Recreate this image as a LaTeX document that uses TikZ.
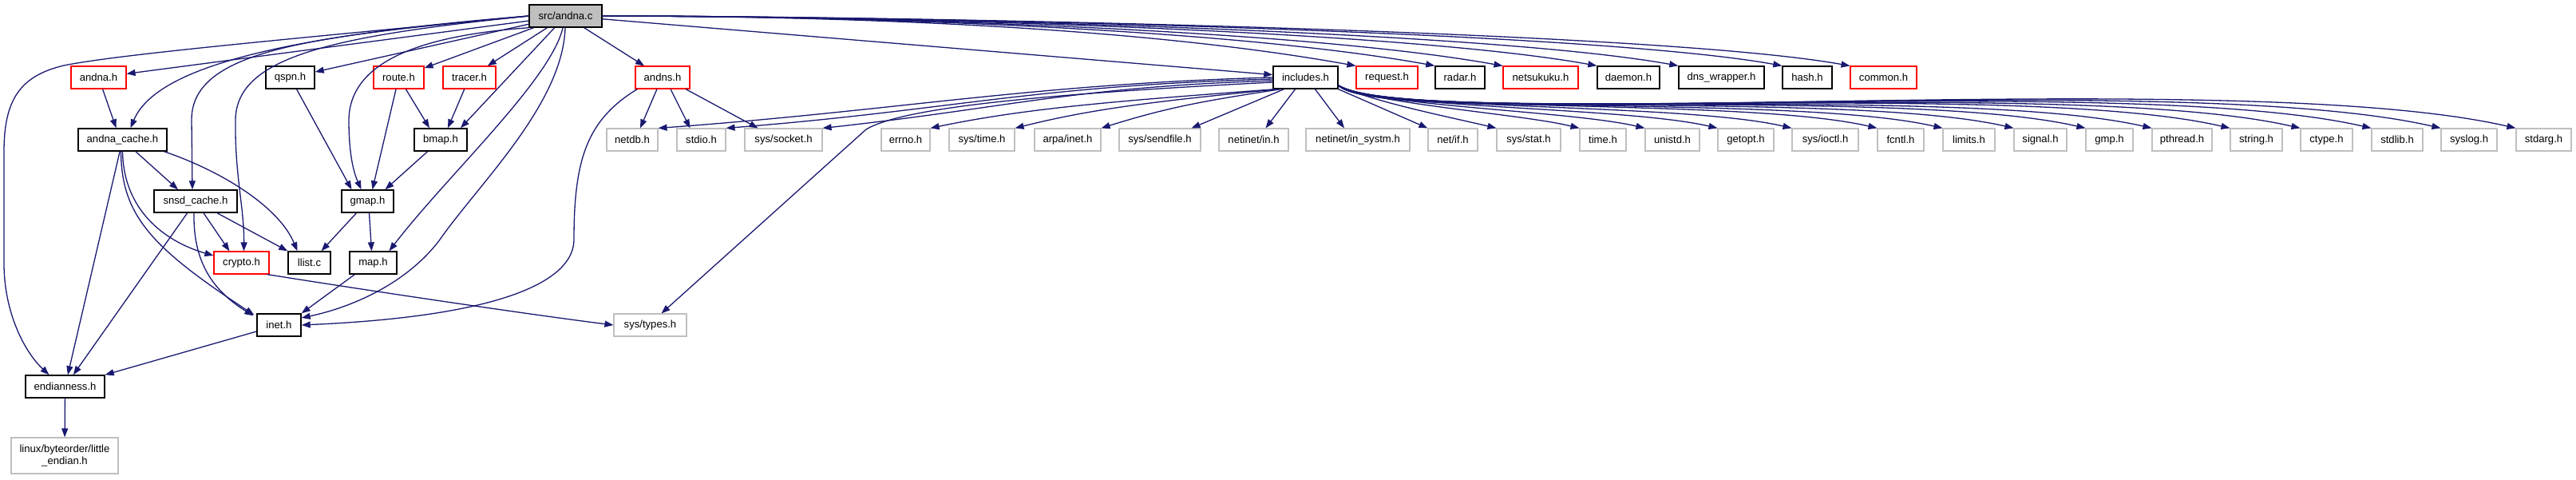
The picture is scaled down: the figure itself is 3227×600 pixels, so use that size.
\documentclass[tikz,border=0pt]{standalone}
\usepackage{fontspec}
\setmainfont{Liberation Sans}
\usetikzlibrary{arrows.meta,calc}
\definecolor{edgec}{HTML}{191970}
\definecolor{grayb}{HTML}{BFBFBF}
\begin{document}
\begin{tikzpicture}[x=1pt,y=-1pt,
  every node/.style={font=\fontsize{13.1pt}{15pt}\selectfont, inner xsep=3pt, inner ysep=0pt, minimum height=28pt, rectangle, anchor=center},
  blk/.style={draw=black, line width=1.4pt, minimum width=#1pt},
  rdb/.style={draw=red, line width=1.1pt, minimum width=#1pt},
  gry/.style={draw=grayb, line width=1.1pt, minimum width=#1pt},
  srcbox/.style={draw=black, fill=grayb, line width=1.4pt, minimum width=#1pt},
  conn/.style={draw=edgec, line width=1.3pt, -{Triangle[length=11pt,width=8pt]}},
]
\useasboundingbox (0,0) rectangle (3227,600);
% row 0
\node[srcbox=91] (srca) at (708.5,20) {src/andna.c};
% row 1
\node[rdb=69] (andnah) at (123.5,97) {andna.h};
\node[blk=61] (qspn) at (363.5,97) {qspn.h};
\node[rdb=63] (route) at (499.5,97) {route.h};
\node[rdb=66] (tracer) at (588,97) {tracer.h};
\node[rdb=68] (andns) at (830,97) {andns.h};
\node[blk=81] (includes) at (1635.5,97) {includes.h};
\node[rdb=77] (request) at (1737.5,97) {request.h};
\node[blk=62] (radar) at (1829,97) {radar.h};
\node[rdb=94] (netsukuku) at (1930,97) {netsukuku.h};
\node[blk=78] (daemon) at (2040,97) {daemon.h};
\node[blk=107] (dnsw) at (2156.5,97) {dns\_wrapper.h};
\node[blk=62] (hash) at (2264,97) {hash.h};
\node[rdb=83] (common) at (2359.5,97) {common.h};
% row 2
\node[blk=111] (andnacache) at (153.5,175) {andna\_cache.h};
\node[blk=66] (bmap) at (552,175) {bmap.h};
\node[gry=64] (netdb) at (792,175) {netdb.h};
\node[gry=61] (stdio) at (878.5,175) {stdio.h};
\node[gry=97] (syssocket) at (981.5,175) {sys/socket.h};
\node[gry=61] (errno) at (1134.5,175) {errno.h};
\node[gry=82] (systime) at (1230,175) {sys/time.h};
\node[gry=83] (arpainet) at (1337.5,175) {arpa/inet.h};
\node[gry=102] (sendfile) at (1453,175) {sys/sendfile.h};
\node[gry=87] (netinetin) at (1570.5,175) {netinet/in.h};
\node[gry=130] (insystm) at (1701,175) {netinet/in\_systm.h};
\node[gry=62] (netif) at (1820,175) {net/if.h};
\node[gry=80] (sysstat) at (1915,175) {sys/stat.h};
\node[gry=58] (timeh) at (2008,175) {time.h};
\node[gry=68] (unistd) at (2095,175) {unistd.h};
\node[gry=70] (getopt) at (2187,175) {getopt.h};
\node[gry=83] (ioctl) at (2286.5,175) {sys/ioctl.h};
\node[gry=58] (fcntl) at (2381,175) {fcntl.h};
\node[gry=65] (limits) at (2466.5,175) {limits.h};
\node[gry=66] (signal) at (2556,175) {signal.h};
\node[gry=59] (gmp) at (2642.5,175) {gmp.h};
\node[gry=75] (pthread) at (2733.5,175) {pthread.h};
\node[gry=65] (string) at (2826.5,175) {string.h};
\node[gry=65] (ctype) at (2914.5,175) {ctype.h};
\node[gry=64] (stdlib) at (3003,175) {stdlib.h};
\node[gry=70] (syslog) at (3093,175) {syslog.h};
\node[gry=69] (stdarg) at (3186.5,175) {stdarg.h};
% row 3
\node[blk=104] (snsd) at (245,252) {snsd\_cache.h};
\node[blk=65] (gmap) at (460.5,252) {gmap.h};
% row 4
\node[rdb=69] (crypto) at (302.5,329) {crypto.h};
\node[blk=53] (llist) at (387.5,329) {llist.c};
\node[blk=59] (map) at (467.5,329) {map.h};
% row 5
\node[blk=55] (inet) at (349.5,407) {inet.h};
\node[gry=91] (systypes) at (814.5,407) {sys/types.h};
% row 6
\node[blk=99] (endian) at (81.5,484) {endianness.h};
% row 7
\node[gry=134, minimum height=45pt, align=center] (little) at (81,570.5) {linux/byteorder/little\\\_endian.h};

% edges from src/andna.c
\draw[conn] (srca.west) .. controls (350,50) and (150,68) .. (80,82) .. controls (25,95) and (5,125) .. (5,190) -- (5,330) .. controls (5,390) and (30,440) .. ($(endian.north)+(-20,0)$);
\draw[conn] (srca) -- (andnah);
\draw[conn] (srca.west) .. controls (350,45) and (195,85) .. ($(andnacache.north)+(10,0)$);
\draw[conn] (srca.west) .. controls (400,45) and (240,60) .. (240,150) -- ($(snsd.north)+(-4,0)$);
\draw[conn] (srca.west) .. controls (420,45) and (296,70) .. (295,150) .. controls (294,220) and (306,260) .. ($(crypto.north)+(3,0)$);
\draw[conn] (srca) -- (qspn);
\draw[conn] (srca.south west) .. controls (520,45) and (438,80) .. (437,150) .. controls (437,200) and (445,220) .. ($(gmap.north)+(-8,0)$);
\draw[conn] (srca) -- (route);
\draw[conn] (srca) -- (tracer);
\draw[conn] (srca) -- ($(bmap.north)+(25,0)$);
\draw[conn] (srca) .. controls (690,100) and (560,220) .. ($(map.north)+(20,0)$);
\draw[conn] (srca) .. controls (705,130) and (600,230) .. (551,300) .. controls (510,355) and (440,385) .. ($(inet.east)+(0,-9)$);
\draw[conn] (srca) -- (andns);
\draw[conn] (srca) -- (includes);
\foreach \t in {request,radar,netsukuku,daemon,dnsw,hash,common}
  \draw[conn] (srca.east) .. controls +(350,0) and +(-250,-45) .. (\t.north west);

% second level
\draw[conn] (andnah) -- ($(andnacache.north)+(-8,0)$);
\draw[conn] (qspn) -- ($(gmap.north)+(-20,0)$);
\draw[conn] (route) -- ($(gmap.north)+(6,0)$);
\draw[conn] (route) -- ($(bmap.north)+(-14,0)$);
\draw[conn] (tracer) -- ($(bmap.north)+(9,0)$);
\draw[conn] (bmap) -- ($(gmap.north)+(22,0)$);

% andns.h
\draw[conn] ($(andns.south)+(-7,0)$) -- ($(netdb.north)+(10,0)$);
\draw[conn] ($(andns.south)+(10,0)$) -- ($(stdio.north)+(-14,0)$);
\draw[conn] ($(andns.south)+(29,0)$) -- ($(syssocket.north)+(-32,0)$);
\draw[conn] ($(andns.south west)+(3,0)$) .. controls (735,150) and (719,200) .. (719,300) .. controls (719,345) and (650,395) .. (inet.east);

% includes.h to the left
\draw[conn] (includes.west) .. controls +(-300,8) and +(300,-22) .. (netdb.north east);
\draw[conn] ($(includes.west)+(0,2)$) .. controls +(-300,8) and +(280,-22) .. (stdio.north east);
\draw[conn] ($(includes.west)+(0,4)$) .. controls +(-250,8) and +(230,-25) .. (syssocket.north east);
\draw[conn] ($(includes.west)+(0,6)$) .. controls (1300,118) and (1130,135) .. (1085,162) -- ($(systypes.north)+(14,0)$);
\draw[conn] ($(includes.south west)+(3,0)$) .. controls +(-200,15) and +(120,-25) .. (errno.north east);
\draw[conn] ($(includes.south west)+(6,0)$) .. controls +(-150,15) and +(100,-25) .. (systime.north east);
\draw[conn] ($(includes.south west)+(10,0)$) .. controls +(-100,15) and +(80,-25) .. (arpainet.north east);
\draw[conn] ($(includes.south west)+(14,0)$) -- ($(sendfile.north east)+(-12,0)$);
\draw[conn] ($(includes.south)+(-13,0)$) -- ($(netinetin.north)+(15,0)$);
\draw[conn] ($(includes.south)+(12,0)$) -- ($(insystm.north)+(-17,0)$);
\draw[conn] (includes.south east) -- (netif.north west);
\foreach \t/\a/\b/\c/\d in {sysstat/40/20/50/12, timeh/42/23/74/18, unistd/43/26/94/22,
  getopt/45/29/116/27, ioctl/47/32/137/32, fcntl/49/36/163/38, limits/51/39/182/42,
  signal/52/42/203/47, gmp/54/45/225/52, pthread/55/48/244/56, string/57/51/267/62,
  ctype/59/54/288/66, stdlib/61/57/309/71, syslog/62/60/330/76, stdarg/64/63/352/81}
  \draw[conn] ($(includes.east)+(0,10)$) .. controls +(\a,\b) and +(-\c,-\d) .. (\t.north west);

% lower part
\draw[conn] (andnacache) -- ($(snsd.north)+(-22,0)$);
\draw[conn] ($(andnacache.south)+(52,0)$) .. controls (280,215) and (350,260) .. ($(llist.north)+(-15,0)$);
\draw[conn] (andnacache.south) .. controls (155,270) and (215,305) .. ($(crypto.west)+(0,-9)$);
\draw[conn] ($(andnacache.south)+(-2,0)$) .. controls (152,270) and (190,310) .. ($(inet.north west)+(-3,2)$);
\draw[conn] (andnacache) -- (endian);
\draw[conn] ($(snsd.south)+(10,0)$) -- ($(crypto.north)+(-15,0)$);
\draw[conn] ($(snsd.south)+(27,0)$) -- (llist.north west);
\draw[conn] ($(snsd.south)+(-2,0)$) .. controls (242,320) and (260,360) .. ($(inet.north west)+(-4,3)$);
\draw[conn] (snsd) -- (endian);
\draw[conn] ($(gmap.south)+(-14,0)$) -- ($(llist.north)+(15,0)$);
\draw[conn] ($(gmap.south)+(2,0)$) -- ($(map.north)+(-2,0)$);
\draw[conn] ($(map.south west)+(7,0)$) -- (inet.north east);
\draw[conn] ($(inet.west)+(0,8)$) -- (endian.north east);
\draw[conn] (endian) -- (little);
\draw[conn] ($(crypto.south east)+(-3,0)$) .. controls (450,362) and (650,392) .. (systypes.west);
\end{tikzpicture}
\end{document}
